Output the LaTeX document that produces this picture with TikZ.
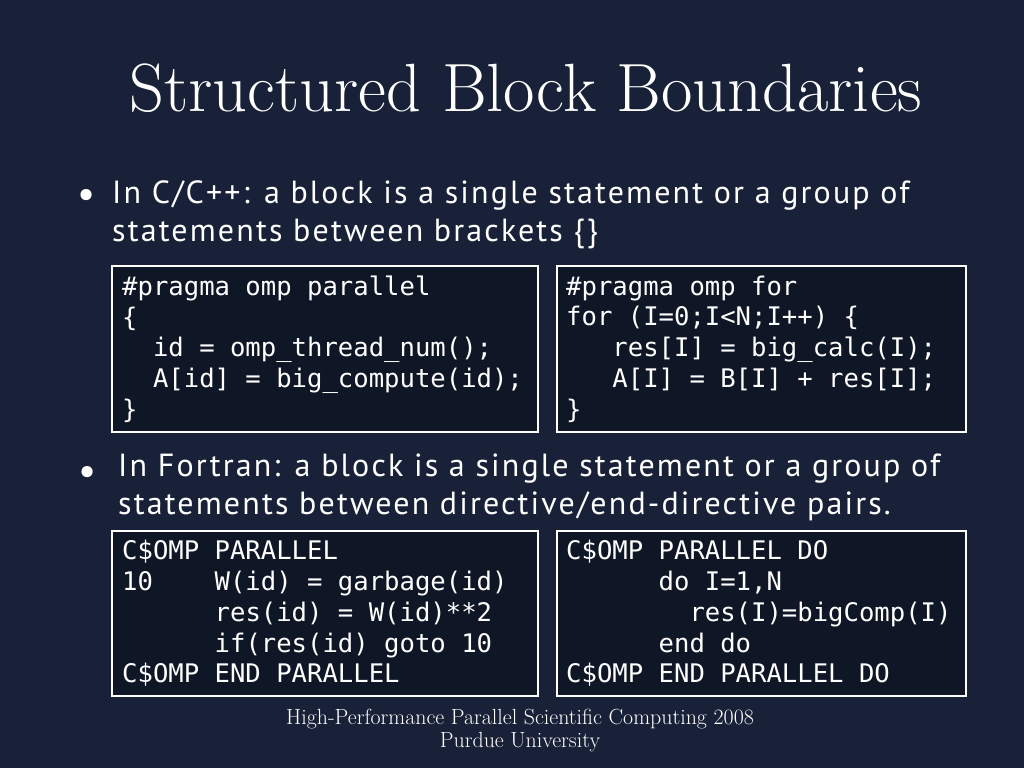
\documentclass[tikz,border=0pt]{standalone}
\usepackage{fontspec}
\setsansfont[LetterSpace=6.7]{PT Sans}
\setmonofont{DejaVu Sans Mono}
\usetikzlibrary{positioning}
\definecolor{slidebg}{RGB}{24,33,55}
\definecolor{codebg}{RGB}{15,22,38}
\tikzset{
  codebox/.style={draw=white, line width=2pt, fill=codebg, anchor=north west, inner sep=0pt},
  codetext/.style={text=white, font=\ttfamily\fontsize{25.6}{30.7}\selectfont, align=left, inner sep=0pt},
  bullettext/.style={text=white, font=\sffamily\fontsize{32}{37.5}\selectfont, align=left, anchor=base west, inner sep=0pt},
  bulletmark/.style={text=white, font=\sffamily\fontsize{40}{40}\selectfont, inner sep=0pt},
  titletext/.style={text=white, font=\fontsize{68.3}{72}\selectfont, anchor=base, inner sep=0pt},
  foottext/.style={text=white, font=\fontsize{21.9}{22.5}\selectfont, align=center, anchor=base, inner sep=0pt}
}
\begin{document}
\begin{tikzpicture}[x=1pt,y=-1pt]
    % 背景
    \fill[slidebg] (0,0) rectangle (1024,768);
    \useasboundingbox (0,0) rectangle (1024,768);

    % 标题
    \node[titletext] (title) at (526,111) {Structured Block Boundaries};

    % 第一个要点
    \node[bulletmark] (cppdot) at (87,198) {•};
    \node[bullettext] (cpp) at (112,241) {In C/C++: a block is a single statement or a group of\\statements between brackets \{\}};

    % C 代码框
    \node[codebox, minimum width=426pt, minimum height=166pt] (par) at (111,265) {};
    \node[codetext, right=11pt of par.west] (partext) {\#pragma omp parallel\\\{\\~~id = omp\_thread\_num();\\~~A[id] = big\_compute(id);\\\}};
    \node[codebox, minimum width=409pt, minimum height=166pt] (for) at (556,265) {};
    \node[codetext, right=10pt of for.west] (fortext) {\#pragma omp for\\for (I=0;I<N;I++) \{\\~~~res[I] = big\_calc(I);\\~~~A[I] = B[I] + res[I];\\\}};

    % 第二个要点
    \node[bulletmark] (f77dot) at (88,475) {•};
    \node[bullettext] (f77) at (118,514) {In Fortran: a block is a single statement or a group of\\statements between directive/end-directive pairs.};

    % Fortran 代码框
    \node[codebox, minimum width=426pt, minimum height=165pt] (fpar) at (111,530) {};
    \node[codetext, right=11pt of fpar.west] (fpartext) {C\$OMP PARALLEL\\10~~~~W(id) = garbage(id)\\~~~~~~res(id) = W(id)**2\\~~~~~~if(res(id) goto 10\\C\$OMP END PARALLEL};
    \node[codebox, minimum width=409pt, minimum height=165pt] (fdo) at (556,530) {};
    \node[codetext, right=10pt of fdo.west] (fdotext) {C\$OMP PARALLEL DO\\~~~~~~do I=1,N\\~~~~~~~~res(I)=bigComp(I)\\~~~~~~end do\\C\$OMP END PARALLEL DO};

    % 页脚
    \node[foottext] (foot) at (520,747) {High-Performance Parallel Scientific Computing 2008\\Purdue University};
\end{tikzpicture}
\end{document}
